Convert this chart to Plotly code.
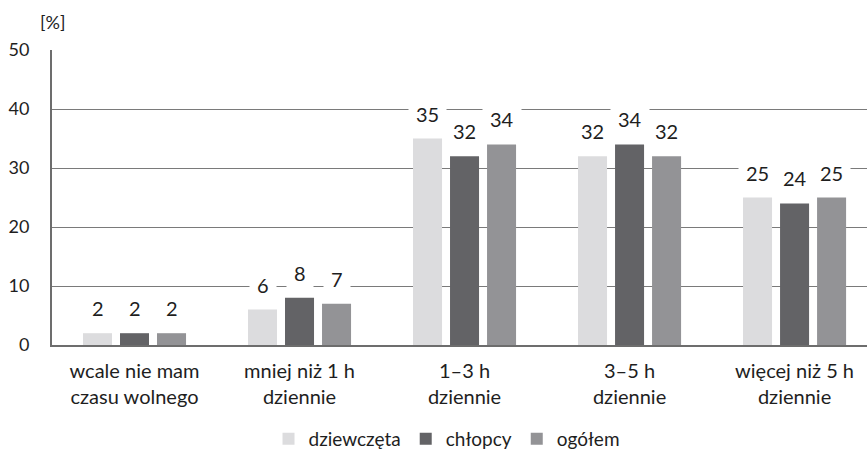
import plotly.graph_objects as go

categories = ["wcale nie mam<br>czasu wolnego", "mniej niż 1 h<br>dziennie", "1–3 h<br>dziennie",
              "3–5 h<br>dziennie", "więcej niż 5 h<br>dziennie"]
series_names = ["dziewczęta", "chłopcy", "ogółem"]
girls = [2, 6, 35, 32, 25]
boys = [2, 8, 32, 34, 24]
total = [2, 7, 34, 32, 25]
y_ticks = [0, 10, 20, 30, 40, 50]
unit_label = "[%]"

series_values = [girls, boys, total]
colors = ["#dcdcde", "#636366", "#939396"]
FONT = "Lato"
TXT = "#1e1e1e"

fig = go.Figure()
for name, vals, col in zip(series_names, series_values, colors):
    fig.add_trace(go.Bar(x=categories, y=vals, name=name, marker=dict(color=col, line=dict(width=0)),
                         hoverinfo="skip"))

slot_px = 37
annotations = []
for si, vals in enumerate(series_values):
    for ci, v in enumerate(vals):
        annotations.append(dict(
            x=categories[ci], y=v, xref="x", yref="y", text=str(v), showarrow=False,
            xanchor="center", yanchor="bottom", xshift=(si - 1) * slot_px, yshift=5,
            bgcolor="white", borderpad=7, font=dict(family=FONT, size=20, color=TXT)))
annotations.append(dict(x=0, y=1, xref="paper", yref="paper", text=unit_label, showarrow=False,
                        xanchor="center", yanchor="middle", yshift=28,
                        font=dict(family=FONT, size=18, color=TXT)))

fig.update_layout(
    width=867, height=458,
    margin=dict(l=52, r=0, t=50, b=113, autoexpand=False),
    paper_bgcolor="white", plot_bgcolor="white",
    barmode="group", bargap=0.327, bargroupgap=0.216,
    font=dict(family=FONT, color=TXT),
    showlegend=True,
    legend=dict(orientation="h", x=0.515, xanchor="center", xref="container",
                y=0, yanchor="bottom", yref="container",
                font=dict(family=FONT, size=19, color=TXT), itemwidth=30,
                traceorder="normal"),
    annotations=annotations,
)
fig.update_xaxes(range=[-0.5, 4.439], showgrid=False, showline=True, linecolor="#6d6d6d", linewidth=2,
                 ticks="", tickfont=dict(family=FONT, size=20, color=TXT), ticklabelstandoff=7,
                 fixedrange=True, automargin=False)
fig.update_yaxes(range=[0, 50], tickvals=y_ticks, showgrid=True, gridcolor="#7a7a7a", gridwidth=1.3,
                 showline=True, linecolor="#6d6d6d", linewidth=2, zeroline=False,
                 ticks="", tickfont=dict(family=FONT, size=18, color=TXT), ticklabelstandoff=17,
                 fixedrange=True, automargin=False)

fig.write_html("out.html", config={"displayModeBar": False},
               post_script="document.body.style.margin='0';document.body.style.overflow='hidden';")
